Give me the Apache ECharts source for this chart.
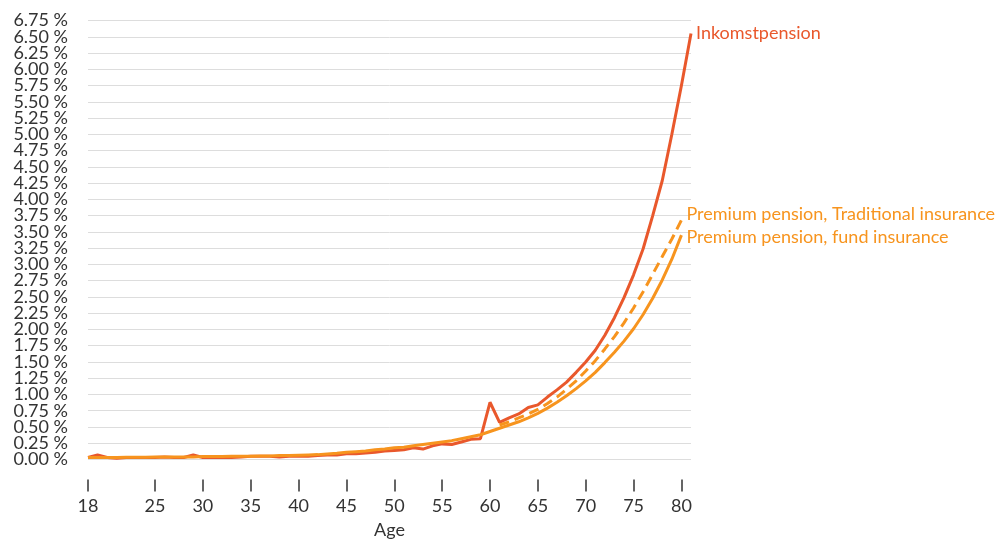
<!DOCTYPE html>
<html>
<head>
<meta charset="utf-8">
<script src="https://cdn.jsdelivr.net/npm/echarts@6/dist/echarts.min.js"></script>
<style>
  html, body { margin: 0; padding: 0; background: #ffffff; }
  #chart { width: 1008px; height: 539px; }
</style>
</head>
<body>
<div id="chart"></div>
<script>
// Mortality-related fee rates (%) by age for the pension products
const ages = [18,19,20,21,22,23,24,25,26,27,28,29,30,31,32,33,34,35,36,37,38,39,40,
  41,42,43,44,45,46,47,48,49,50,51,52,53,54,55,56,57,58,59,60,
  61,62,63,64,65,66,67,68,69,70,71,72,73,74,75,76,77,78,79,80,81];

const inkomstpension = [0.03,0.07,0.03,0.02,0.03,0.03,0.03,0.03,0.04,0.03,0.03,0.07,0.03,0.03,0.03,0.03,0.04,0.05,0.05,0.05,0.04,0.05,0.05,
  0.05,0.06,0.07,0.07,0.09,0.09,0.10,0.11,0.13,0.14,0.15,0.18,0.16,0.21,0.24,0.23,0.27,0.31,0.32,0.88,
  0.57,0.64,0.70,0.80,0.84,0.96,1.07,1.19,1.34,1.50,1.68,1.91,2.18,2.49,2.84,3.24,3.75,4.29,5.00,5.75,6.55];

const fundAges = ages.slice(0, 63); // 18..80
const fundInsurance = [0.03,0.03,0.03,0.03,0.035,0.035,0.035,0.04,0.04,0.04,0.04,0.04,0.045,0.045,0.045,0.05,0.05,0.05,0.055,0.055,0.06,0.06,0.065,
  0.07,0.075,0.085,0.095,0.11,0.12,0.13,0.15,0.16,0.18,0.19,0.21,0.23,0.25,0.27,0.29,0.32,0.35,0.38,0.43,
  0.48,0.53,0.58,0.64,0.71,0.79,0.88,0.98,1.09,1.21,1.34,1.49,1.65,1.82,2.01,2.23,2.48,2.76,3.08,3.45];

const tradAges = [61,62,63,64,65,66,67,68,69,70,71,72,73,74,75,76,77,78,79,80];
const traditionalInsurance = [0.53,0.58,0.64,0.70,0.77,0.86,0.96,1.08,1.21,1.36,1.52,1.70,1.89,2.10,2.33,2.58,2.85,3.12,3.39,3.68];

const xTickLabels = [18,25,30,35,40,45,50,55,60,65,70,75,80];
const ageMin = 18;
const ageMax = 81;
const yMax = 6.75;
const yStep = 0.25;

const RED = '#e9582c';
const ORANGE = '#f7941e';
const TEXT = '#333333';
const FONT = 'Lato';

const pairs = (xs, ys) => xs.map((x, i) => [x, ys[i]]);
const pct = v => v.toFixed(2) + ' %';
// The percentage labels are packed tightly, so they are split over two
// stacked y axes: whole half-points on one, the quarter-points on the other.
const isHalf = v => Math.round(v / yStep) % 2 === 0;

const yAxisBase = {
  gridIndex: 0,
  type: 'value',
  min: 0,
  max: yMax,
  interval: yStep,
  position: 'left',
  axisLine: { show: false },
  axisTick: { show: false }
};
const yLabelStyle = { margin: 20, fontFamily: FONT, fontSize: 18, color: TEXT, hideOverlap: false };

const chart = echarts.init(document.getElementById('chart'), null, { renderer: 'canvas' });

chart.setOption({
  animation: false,
  backgroundColor: '#ffffff',
  grid: [
    // plot area
    { left: 88, right: 317, top: 20.5, bottom: 79.5, containLabel: false, outerBoundsMode: 'none' },
    // detached age scale sitting below the plot area
    { left: 88, right: 317, top: 478.5, bottom: 59.5, containLabel: false, outerBoundsMode: 'none' }
  ],
  xAxis: [
    {
      gridIndex: 0,
      type: 'value',
      min: ageMin,
      max: ageMax,
      show: false
    },
    {
      gridIndex: 1,
      type: 'value',
      min: ageMin,
      max: ageMax,
      name: 'Age',
      nameLocation: 'middle',
      nameGap: 42,
      nameTextStyle: { fontFamily: FONT, fontSize: 18, color: TEXT },
      axisLine: { show: false },
      axisTick: { show: true, length: 12, customValues: xTickLabels, lineStyle: { color: TEXT, width: 1.5 } },
      axisLabel: { customValues: xTickLabels, margin: 18, fontFamily: FONT, fontSize: 18, color: TEXT },
      splitLine: { show: false }
    }
  ],
  yAxis: [
    Object.assign({}, yAxisBase, {
      axisLabel: Object.assign({}, yLabelStyle, {
        showMinLabel: true,
        showMaxLabel: false,
        formatter: v => (isHalf(v) ? pct(v) : '')
      }),
      splitLine: { showMinLine: true, showMaxLine: true, lineStyle: { color: '#dddddd', width: 1 } }
    }),
    Object.assign({}, yAxisBase, {
      axisLabel: Object.assign({}, yLabelStyle, {
        showMinLabel: false,
        showMaxLabel: true,
        formatter: v => (isHalf(v) ? '' : pct(v))
      }),
      splitLine: { show: false }
    }),
    { gridIndex: 1, type: 'value', min: 0, max: 1, show: false }
  ],
  series: [
    {
      name: 'Inkomstpension',
      type: 'line',
      xAxisIndex: 0,
      yAxisIndex: 0,
      data: pairs(ages, inkomstpension),
      showSymbol: false,
      lineStyle: { color: RED, width: 3 },
      endLabel: {
        show: true,
        formatter: 'Inkomstpension',
        distance: 5,
        fontFamily: FONT,
        fontSize: 18,
        color: RED
      },
      z: 2
    },
    {
      name: 'Premium pension, Traditional insurance',
      type: 'line',
      xAxisIndex: 0,
      yAxisIndex: 0,
      data: pairs(tradAges, traditionalInsurance),
      showSymbol: false,
      lineStyle: { color: ORANGE, width: 3, type: [10, 6] },
      endLabel: {
        show: true,
        formatter: 'Premium pension, Traditional insurance',
        distance: 5,
        offset: [0, -6],
        fontFamily: FONT,
        fontSize: 18,
        color: ORANGE
      },
      z: 3
    },
    {
      name: 'Premium pension, fund insurance',
      type: 'line',
      xAxisIndex: 0,
      yAxisIndex: 0,
      data: pairs(fundAges, fundInsurance),
      showSymbol: false,
      lineStyle: { color: ORANGE, width: 3 },
      endLabel: {
        show: true,
        formatter: 'Premium pension, fund insurance',
        distance: 5,
        offset: [0, 2],
        fontFamily: FONT,
        fontSize: 18,
        color: ORANGE
      },
      z: 4
    }
  ]
});
</script>
</body>
</html>
